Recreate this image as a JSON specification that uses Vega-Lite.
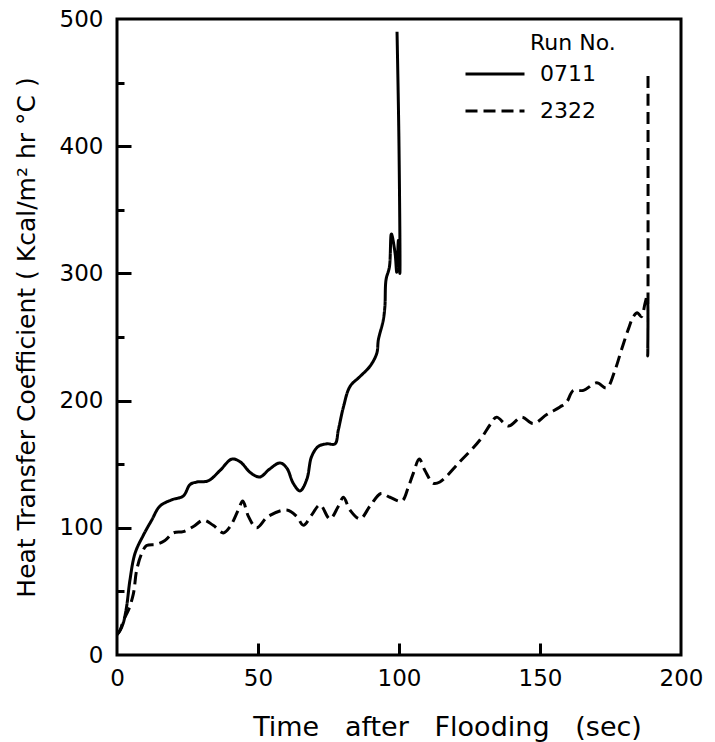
{
  "$schema": "https://vega.github.io/schema/vega-lite/v6.json",
  "width": 564,
  "height": 636,
  "autosize": "none",
  "padding": {"left": 117, "top": 19, "right": 34, "bottom": 87},
  "background": "white",
  "config": {
    "view": {"stroke": "black", "strokeWidth": 3},
    "font": "DejaVu Sans",
    "axis": {"grid": false, "gridOpacity": 0, "domain": false, "tickColor": "black", "tickWidth": 3, "tickOpacity": 1, "labelColor": "black", "titleColor": "black", "labelFontSize": 23, "titleFontWeight": "normal", "labelFlush": false, "labelOverlap": false}
  },
  "data": {"values": [
    {"i": 0, "run": "0711", "t": 0, "h": 16},
    {"i": 1, "run": "0711", "t": 1.0, "h": 19},
    {"i": 2, "run": "0711", "t": 2.2, "h": 25},
    {"i": 3, "run": "0711", "t": 3.4, "h": 38},
    {"i": 4, "run": "0711", "t": 4.6, "h": 59},
    {"i": 5, "run": "0711", "t": 6.4, "h": 80},
    {"i": 6, "run": "0711", "t": 9.3, "h": 94},
    {"i": 7, "run": "0711", "t": 12.3, "h": 106},
    {"i": 8, "run": "0711", "t": 15.2, "h": 117},
    {"i": 9, "run": "0711", "t": 19.4, "h": 122},
    {"i": 10, "run": "0711", "t": 23.5, "h": 125},
    {"i": 11, "run": "0711", "t": 25.9, "h": 134},
    {"i": 12, "run": "0711", "t": 28.3, "h": 136},
    {"i": 13, "run": "0711", "t": 32.4, "h": 137},
    {"i": 14, "run": "0711", "t": 36.5, "h": 145},
    {"i": 15, "run": "0711", "t": 40.7, "h": 154},
    {"i": 16, "run": "0711", "t": 43.6, "h": 152},
    {"i": 17, "run": "0711", "t": 47.5, "h": 143},
    {"i": 18, "run": "0711", "t": 50.7, "h": 140},
    {"i": 19, "run": "0711", "t": 54.0, "h": 146},
    {"i": 20, "run": "0711", "t": 57.8, "h": 151},
    {"i": 21, "run": "0711", "t": 60.2, "h": 147},
    {"i": 22, "run": "0711", "t": 62.5, "h": 135},
    {"i": 23, "run": "0711", "t": 64.9, "h": 129},
    {"i": 24, "run": "0711", "t": 67.3, "h": 138},
    {"i": 25, "run": "0711", "t": 69.0, "h": 156},
    {"i": 26, "run": "0711", "t": 71.4, "h": 164},
    {"i": 27, "run": "0711", "t": 74.4, "h": 166},
    {"i": 28, "run": "0711", "t": 77.3, "h": 166},
    {"i": 29, "run": "0711", "t": 78.5, "h": 177},
    {"i": 30, "run": "0711", "t": 80.3, "h": 195},
    {"i": 31, "run": "0711", "t": 82.6, "h": 211},
    {"i": 32, "run": "0711", "t": 86.2, "h": 219},
    {"i": 33, "run": "0711", "t": 89.7, "h": 227},
    {"i": 34, "run": "0711", "t": 92.1, "h": 237},
    {"i": 35, "run": "0711", "t": 92.7, "h": 248},
    {"i": 36, "run": "0711", "t": 94.4, "h": 263},
    {"i": 37, "run": "0711", "t": 95.0, "h": 274},
    {"i": 38, "run": "0711", "t": 95.4, "h": 295},
    {"i": 39, "run": "0711", "t": 96.6, "h": 305},
    {"i": 40, "run": "0711", "t": 97.3, "h": 331},
    {"i": 41, "run": "0711", "t": 98.6, "h": 316},
    {"i": 42, "run": "0711", "t": 99.2, "h": 301},
    {"i": 43, "run": "0711", "t": 99.8, "h": 326},
    {"i": 44, "run": "0711", "t": 100.3, "h": 300},
    {"i": 45, "run": "0711", "t": 100.0, "h": 400},
    {"i": 46, "run": "0711", "t": 99.3, "h": 490},
    {"i": 0, "run": "2322", "t": 0, "h": 16},
    {"i": 1, "run": "2322", "t": 1.2, "h": 20},
    {"i": 2, "run": "2322", "t": 2.2, "h": 27},
    {"i": 3, "run": "2322", "t": 4.0, "h": 35},
    {"i": 4, "run": "2322", "t": 5.8, "h": 48},
    {"i": 5, "run": "2322", "t": 7.0, "h": 67},
    {"i": 6, "run": "2322", "t": 8.8, "h": 80},
    {"i": 7, "run": "2322", "t": 10.5, "h": 86},
    {"i": 8, "run": "2322", "t": 14.1, "h": 87},
    {"i": 9, "run": "2322", "t": 17.0, "h": 90},
    {"i": 10, "run": "2322", "t": 20.0, "h": 96},
    {"i": 11, "run": "2322", "t": 23.5, "h": 97},
    {"i": 12, "run": "2322", "t": 27.1, "h": 101},
    {"i": 13, "run": "2322", "t": 30.6, "h": 106},
    {"i": 14, "run": "2322", "t": 34.1, "h": 102},
    {"i": 15, "run": "2322", "t": 37.7, "h": 96},
    {"i": 16, "run": "2322", "t": 40.1, "h": 101},
    {"i": 17, "run": "2322", "t": 43.0, "h": 114},
    {"i": 18, "run": "2322", "t": 44.6, "h": 121},
    {"i": 19, "run": "2322", "t": 46.6, "h": 109},
    {"i": 20, "run": "2322", "t": 49.5, "h": 100},
    {"i": 21, "run": "2322", "t": 53.6, "h": 109},
    {"i": 22, "run": "2322", "t": 60.2, "h": 114},
    {"i": 23, "run": "2322", "t": 63.7, "h": 109},
    {"i": 24, "run": "2322", "t": 66.1, "h": 102},
    {"i": 25, "run": "2322", "t": 69.0, "h": 110},
    {"i": 26, "run": "2322", "t": 72.0, "h": 118},
    {"i": 27, "run": "2322", "t": 75.5, "h": 107},
    {"i": 28, "run": "2322", "t": 78.5, "h": 117},
    {"i": 29, "run": "2322", "t": 80.3, "h": 124},
    {"i": 30, "run": "2322", "t": 82.6, "h": 114},
    {"i": 31, "run": "2322", "t": 86.2, "h": 107},
    {"i": 32, "run": "2322", "t": 89.7, "h": 117},
    {"i": 33, "run": "2322", "t": 93.6, "h": 127},
    {"i": 34, "run": "2322", "t": 96.8, "h": 124},
    {"i": 35, "run": "2322", "t": 101.0, "h": 121},
    {"i": 36, "run": "2322", "t": 103.3, "h": 132},
    {"i": 37, "run": "2322", "t": 105.1, "h": 143},
    {"i": 38, "run": "2322", "t": 107.2, "h": 154},
    {"i": 39, "run": "2322", "t": 109.2, "h": 145},
    {"i": 40, "run": "2322", "t": 112.2, "h": 135},
    {"i": 41, "run": "2322", "t": 114.5, "h": 136},
    {"i": 42, "run": "2322", "t": 121.6, "h": 152},
    {"i": 43, "run": "2322", "t": 128.7, "h": 169},
    {"i": 44, "run": "2322", "t": 132.3, "h": 181},
    {"i": 45, "run": "2322", "t": 134.6, "h": 187},
    {"i": 46, "run": "2322", "t": 138.8, "h": 180},
    {"i": 47, "run": "2322", "t": 143.5, "h": 187},
    {"i": 48, "run": "2322", "t": 147.6, "h": 182},
    {"i": 49, "run": "2322", "t": 152.4, "h": 189},
    {"i": 50, "run": "2322", "t": 157.1, "h": 195},
    {"i": 51, "run": "2322", "t": 159.5, "h": 199},
    {"i": 52, "run": "2322", "t": 161.8, "h": 208},
    {"i": 53, "run": "2322", "t": 165.4, "h": 208},
    {"i": 54, "run": "2322", "t": 170.1, "h": 214},
    {"i": 55, "run": "2322", "t": 173.6, "h": 210},
    {"i": 56, "run": "2322", "t": 176.6, "h": 224},
    {"i": 57, "run": "2322", "t": 178.9, "h": 240},
    {"i": 58, "run": "2322", "t": 181.3, "h": 256},
    {"i": 59, "run": "2322", "t": 183.1, "h": 266},
    {"i": 60, "run": "2322", "t": 184.5, "h": 269},
    {"i": 61, "run": "2322", "t": 186.0, "h": 266},
    {"i": 62, "run": "2322", "t": 187.2, "h": 276},
    {"i": 63, "run": "2322", "t": 188.0, "h": 282},
    {"i": 64, "run": "2322", "t": 188.2, "h": 235},
    {"i": 65, "run": "2322", "t": 188.3, "h": 282},
    {"i": 66, "run": "2322", "t": 188.3, "h": 459}
  ]},
  "layer": [
    {
      "mark": {"type": "line", "strokeWidth": 3, "color": "black", "interpolate": "catmull-rom"},
      "encoding": {
        "x": {"field": "t", "type": "quantitative", "scale": {"domain": [0, 200], "nice": false},
          "axis": {"orient": "bottom", "values": [0, 50, 100, 150, 200], "ticks": false, "grid": false, "labelPadding": 12, "labelDx": 4,
            "title": "Time\u00a0\u00a0\u00a0after\u00a0\u00a0\u00a0Flooding\u00a0\u00a0\u00a0(sec)", "titleFontSize": 27,
            "titleX": 330, "titleY": 80, "titleBaseline": "alphabetic", "titleAlign": "center"}},
        "y": {"field": "h", "type": "quantitative", "scale": {"domain": [0, 500], "nice": false},
          "axis": {"orient": "left", "values": [0, 100, 200, 300, 400, 500], "ticks": false, "grid": false, "labelPadding": 14,
            "title": "Heat Transfer Coefficient ( Kcal/m² hr °C )", "titleFontSize": 25, "titlePadding": 20}},
        "strokeDash": {"field": "run", "type": "nominal",
          "scale": {"domain": ["0711", "2322"], "range": [[1, 0], [12, 6]]},
          "legend": {"orient": "none", "legendX": 347, "legendY": 14, "title": "Run No.", "titleFontSize": 22,
            "titleFontWeight": "normal", "titleColor": "black", "titleAnchor": "middle", "titleAlign": "left", "titlePadding": 8,
            "labelFontSize": 22, "labelColor": "black", "symbolType": "stroke", "symbolSize": 3481, "symbolStrokeWidth": 3,
            "symbolStrokeColor": "black", "labelOffset": 14, "rowPadding": 15, "clipHeight": 22, "padding": 0}},
        "order": {"field": "i", "type": "quantitative"}
      }
    },
    {
      "mark": {"type": "line", "strokeOpacity": 0},
      "encoding": {
        "x": {"field": "t", "type": "quantitative", "axis": null},
        "y": {"field": "h", "type": "quantitative",
          "axis": {"orient": "left", "values": [50, 150, 250, 350, 450], "offset": -7, "ticks": true, "tickSize": 7, "grid": false, "labels": false, "title": null, "domain": false, "zindex": 1}},
        "detail": {"field": "run", "type": "nominal"},
        "order": {"field": "i", "type": "quantitative"}
      }
    },
    {
      "mark": {"type": "line", "strokeOpacity": 0},
      "encoding": {
        "x": {"field": "t", "type": "quantitative",
          "axis": {"orient": "bottom", "values": [50, 100, 150], "offset": -12, "ticks": true, "tickSize": 12, "grid": false, "labels": false, "title": null, "domain": false, "zindex": 1}},
        "y": {"field": "h", "type": "quantitative",
          "axis": {"orient": "left", "values": [100, 200, 300, 400], "offset": -14, "ticks": true, "tickSize": 14, "grid": false, "labels": false, "title": null, "domain": false, "zindex": 1}},
        "detail": {"field": "run", "type": "nominal"},
        "order": {"field": "i", "type": "quantitative"}
      }
    }
  ],
  "resolve": {"axis": {"x": "independent", "y": "independent"}}
}
